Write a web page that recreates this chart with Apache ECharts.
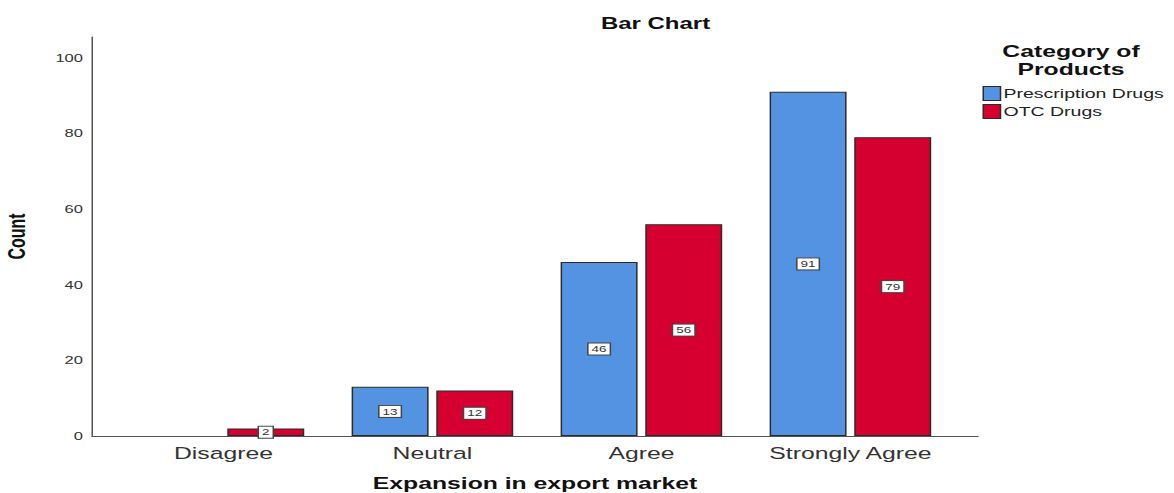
<!DOCTYPE html>
<html>
<head>
<meta charset="utf-8">
<script src="https://cdn.jsdelivr.net/npm/echarts@6/dist/echarts.min.js"></script>
<style>
  html, body { margin: 0; padding: 0; background: #fff; overflow: hidden; }
  /* 原图整体横向拉伸，这里用 scaleX 还原 */
  #chart { width: 782.67px; height: 493px; transform: scaleX(1.5); transform-origin: 0 0; }
</style>
</head>
<body>
<div id="chart"></div>
<script>
// 数据
var categories = ['Disagree', 'Neutral', 'Agree', 'Strongly Agree'];
var seriesNames = ['Prescription Drugs', 'OTC Drugs'];
var prescription = [0, 13, 46, 91];
var otc = [2, 12, 56, 79];
var yTicks = [0, 20, 40, 60, 80, 100];

var font = 'Liberation Sans, Arial, sans-serif';

// 柱子上的数值标签
function barLabel() {
    return {
        show: true,
        position: 'inside',
        fontSize: 9,
        fontFamily: font,
        color: '#333',
        backgroundColor: '#fff',
        borderColor: '#444',
        borderWidth: 1,
        padding: [1, 2],
        formatter: function (p) { return p.value > 0 ? p.value : ''; }
    };
}

// 0 值不画柱子
function toBars(arr) {
    return arr.map(function (v) { return v > 0 ? v : null; });
}

// 图例标题（两行）
var legendTitleStyle = { fontFamily: font, fontSize: 16.5, fontWeight: 'bold', color: '#111', lineHeight: 16 };

var option = {
    animation: false,
    title: [
        {
            text: 'Bar Chart',
            left: 432, top: 11, textAlign: 'center',
            textStyle: { fontFamily: font, fontSize: 16, fontWeight: 'bold', color: '#111' }
        },
        {
            text: 'Category of',
            left: 714, top: 43.5, textAlign: 'center', padding: 0,
            textStyle: legendTitleStyle
        },
        {
            text: 'Products',
            left: 714, top: 61, textAlign: 'center', padding: 0,
            textStyle: legendTitleStyle
        }
    ],
    legend: {
        data: seriesNames,
        orient: 'vertical',
        left: 655, top: 86, padding: 0,
        itemWidth: 11.5, itemHeight: 14, itemGap: 3,
        icon: 'rect',
        itemStyle: { borderColor: '#2b2b2b', borderWidth: 1 },
        textStyle: { fontFamily: font, fontSize: 13, lineHeight: 14, color: '#222', padding: [0, 0, 0, -3] }
    },
    grid: [
        // 外框（坐标轴线）
        { left: 61.3, width: 590.7, top: 37, bottom: 57, outerBoundsMode: 'none', containLabel: false },
        // 柱状图区域
        { left: 79.3, width: 557.3, top: 37, bottom: 57, outerBoundsMode: 'none', containLabel: false }
    ],
    xAxis: [
        {
            gridIndex: 0, type: 'value', min: 0, max: 1,
            axisLine: { show: true, lineStyle: { color: '#555' } },
            axisTick: { show: false }, axisLabel: { show: false }, splitLine: { show: false },
            name: 'Expansion in export market',
            nameLocation: 'middle', nameGap: 39,
            nameTextStyle: { fontFamily: font, fontSize: 16.5, fontWeight: 'bold', color: '#111' }
        },
        {
            gridIndex: 1, type: 'category', data: categories,
            axisLine: { show: false }, axisTick: { show: false },
            axisLabel: { fontFamily: font, fontSize: 16.5, color: '#333', margin: 9, interval: 0 }
        }
    ],
    yAxis: [
        {
            gridIndex: 0, type: 'value', min: 0, max: 105.5, interval: 20,
            axisLine: { show: true, lineStyle: { color: '#555' } },
            axisTick: { show: false }, splitLine: { show: false },
            axisLabel: {
                fontFamily: font, fontSize: 11, color: '#333', margin: 6,
                showMaxLabel: false,
                formatter: function (v) { return yTicks.indexOf(v) >= 0 ? v : ''; }
            },
            name: 'Count', nameLocation: 'middle', nameGap: 42, nameRotate: 90,
            nameTextStyle: { fontFamily: font, fontSize: 16, fontWeight: 'bold', color: '#111' }
        },
        {
            gridIndex: 1, type: 'value', min: 0, max: 105.5, show: false
        }
    ],
    series: [
        {
            name: seriesNames[0], type: 'bar', xAxisIndex: 1, yAxisIndex: 1,
            barWidth: 51.3, barGap: '10%',
            itemStyle: { color: '#5393E2', borderColor: '#2b2b2b', borderWidth: 1 },
            label: barLabel(),
            data: toBars(prescription)
        },
        {
            name: seriesNames[1], type: 'bar', xAxisIndex: 1, yAxisIndex: 1,
            barWidth: 51.3, barGap: '10%',
            itemStyle: { color: '#D5002F', borderColor: '#2b2b2b', borderWidth: 1 },
            label: barLabel(),
            data: toBars(otc)
        }
    ]
};

var chart = echarts.init(document.getElementById('chart'), null, { renderer: 'svg' });
chart.setOption(option);
</script>
</body>
</html>
